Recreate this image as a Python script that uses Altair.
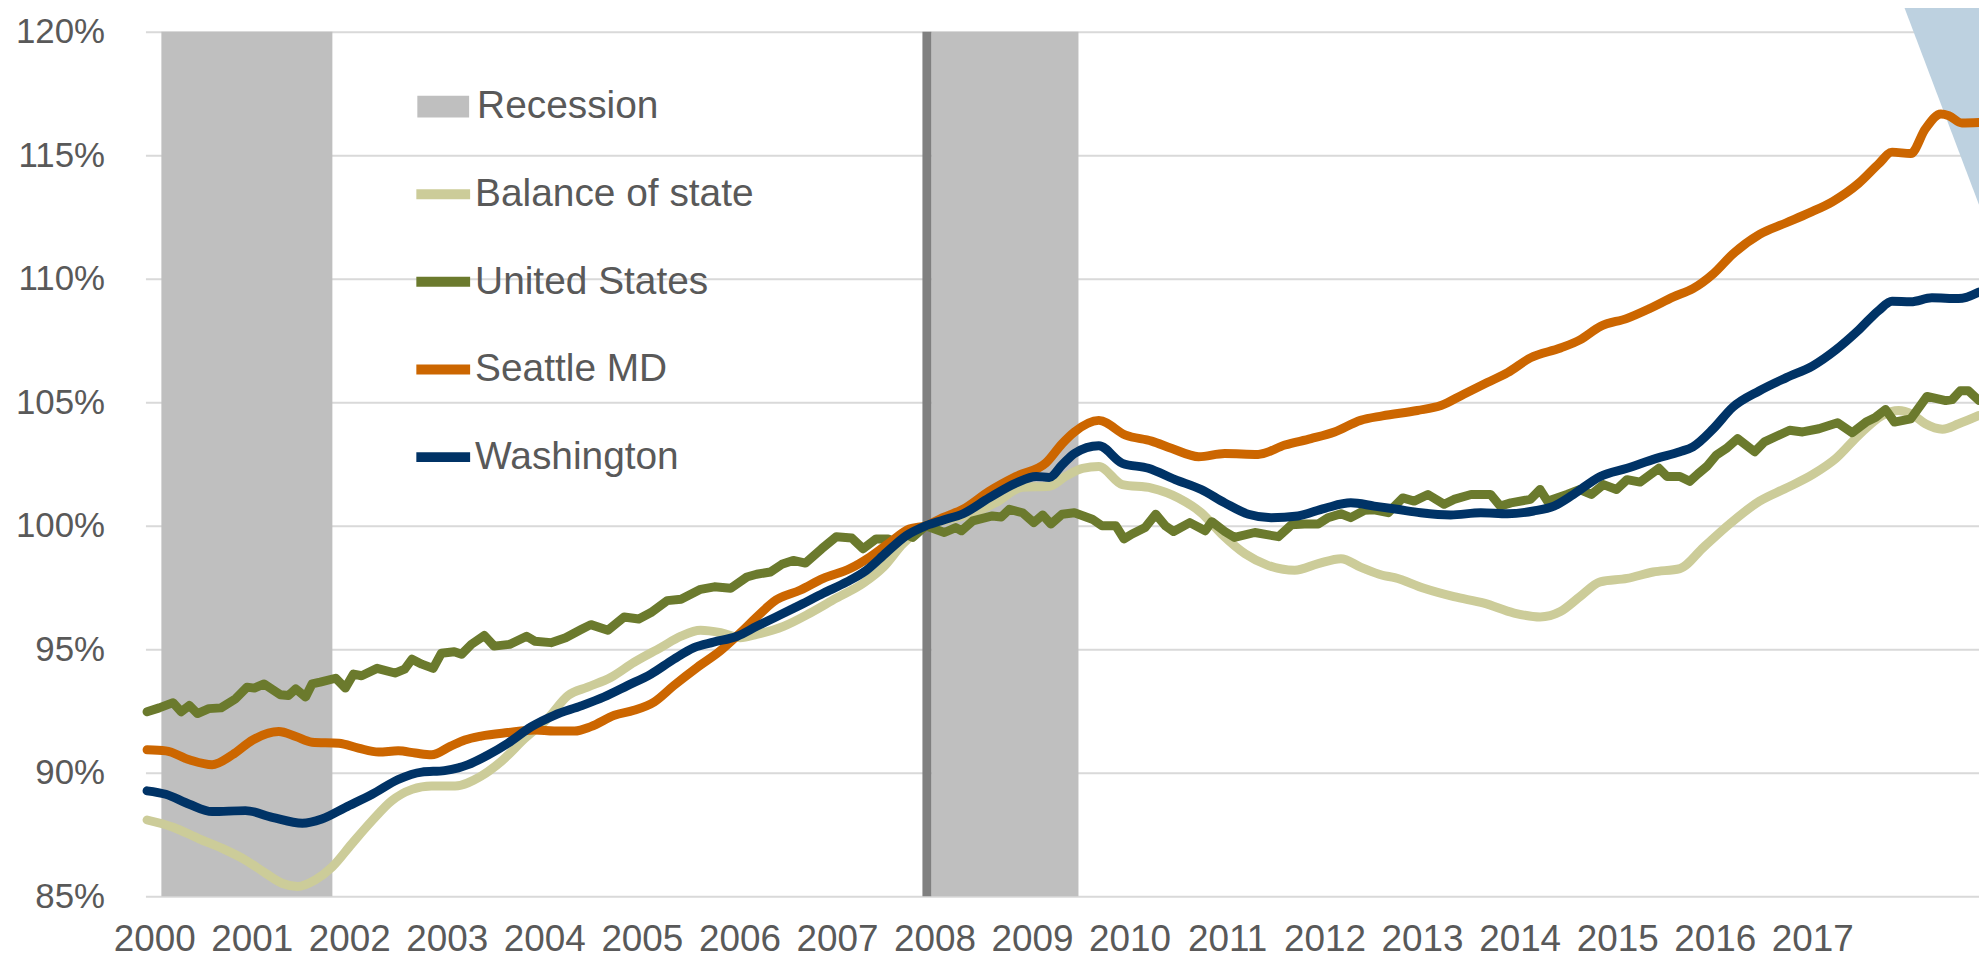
import altair as alt
import pandas as pd

# ---------------- data (months since Jan 2000, index value in %) ----------------
SERIES = ["Balance of state", "United States", "Seattle MD", "Washington"]
COLORS = ["#cccc99", "#6b7a2d", "#cc6600", "#003366"]

BAL_M = [0.2, 3.4, 6.6, 9.9, 12.3, 14.8, 16.8, 18.7, 20.9, 23.0, 25.4, 27.9, 30.3, 32.8, 35.2, 38.1,
         41.3, 43.8, 46.7, 49.5, 52.0, 54.4, 57.3, 60.1, 63.4, 65.9, 68.3, 70.8, 73.2, 75.2, 78.5,
         81.8, 85.0, 88.3, 90.8, 93.2, 96.0, 98.1, 101.4, 104.6, 107.9, 111.2, 113.2, 115.3, 117.3,
         120.2, 123.8, 127.1, 129.9, 132.4, 135.3, 138.1, 141.4, 144.3, 147.1, 149.5, 152.2, 153.7,
         157.3, 161.0, 164.7, 168.4, 171.6, 174.1, 176.5, 179.0, 182.3, 185.5, 188.8, 191.7, 195.0,
         198.6, 201.9, 205.1, 208.0, 210.8, 213.7, 215.7, 217.3, 219.0, 221.1, 223.1, 225.6]
BAL_V = [88.09, 87.8, 87.33, 86.87, 86.47, 85.93, 85.53, 85.4, 85.67, 86.2, 87.13, 88.07, 88.87,
         89.33, 89.47, 89.47, 89.87, 90.47, 91.4, 92.2, 93.13, 93.47, 93.87, 94.47, 95.07, 95.53,
         95.77, 95.67, 95.47, 95.6, 95.93, 96.47, 97.07, 97.67, 98.33, 99.27, 100.0, 100.2, 100.47,
         100.93, 101.56, 101.6, 102.0, 102.33, 102.4, 101.67, 101.53, 101.13, 100.53, 99.67, 98.87,
         98.4, 98.2, 98.47, 98.67, 98.33, 98.0, 97.9, 97.47, 97.13, 96.87, 96.47, 96.31, 96.53,
         97.13, 97.73, 97.87, 98.13, 98.27, 99.13, 100.1, 101.0, 101.53, 102.07, 102.73, 103.67,
         104.47, 104.67, 104.53, 104.13, 103.91, 104.13, 104.47]

US_M = [0.2, 1.7, 3.4, 4.4, 5.4, 6.4, 7.8, 9.3, 11.1, 12.5, 13.4, 14.6, 16.6, 17.6, 18.5, 19.7,
        20.5, 21.5, 23.4, 24.6, 25.6, 26.6, 28.5, 30.7, 31.9, 32.8, 34.0, 35.4, 36.4, 38.0, 38.9,
        40.1, 41.7, 42.9, 44.8, 46.9, 47.9, 49.9, 51.7, 53.6, 54.8, 56.9, 58.9, 60.7, 62.2, 64.2,
        65.9, 68.3, 70.0, 72.0, 74.0, 75.2, 76.9, 78.3, 79.7, 81.2, 83.2, 85.0, 86.9, 88.3, 89.9,
        91.4, 92.2, 93.2, 94.4, 96.0, 98.3, 99.7, 100.4, 101.8, 104.2, 105.3, 106.3, 107.9, 109.3,
        110.4, 111.4, 112.8, 114.3, 116.5, 117.7, 119.4, 120.4, 121.4, 123.0, 124.3, 125.5, 126.5,
        128.5, 130.4, 131.2, 132.8, 134.0, 136.5, 139.4, 141.0, 142.6, 144.3, 145.5, 147.1, 148.3,
        150.0, 151.2, 152.9, 154.7, 156.1, 157.8, 159.8, 161.0, 163.1, 165.5, 166.7, 168.0, 170.4,
        171.6, 172.5, 174.9, 176.5, 177.9, 179.4, 181.0, 182.3, 183.9, 186.2, 187.2, 188.8, 190.0,
        191.0, 192.1, 193.3, 194.5, 195.9, 198.0, 199.2, 202.3, 203.9, 205.9, 208.2, 210.0, 211.7,
        212.9, 214.1, 215.2, 217.2, 219.2, 221.5, 222.3, 223.3, 224.3, 225.6]
US_V = [92.47, 92.63, 92.84, 92.47, 92.73, 92.4, 92.6, 92.63, 93.0, 93.47, 93.43, 93.6, 93.16,
        93.13, 93.4, 93.07, 93.6, 93.67, 93.83, 93.43, 94.0, 93.93, 94.23, 94.04, 94.2, 94.6, 94.4,
        94.23, 94.84, 94.9, 94.8, 95.2, 95.56, 95.13, 95.2, 95.53, 95.33, 95.27, 95.47, 95.8, 96.0,
        95.77, 96.31, 96.23, 96.49, 96.97, 97.03, 97.43, 97.53, 97.47, 97.93, 98.04, 98.13, 98.44,
        98.6, 98.49, 99.07, 99.56, 99.51, 99.07, 99.47, 99.47, 99.33, 99.71, 99.53, 100.0, 99.73,
        99.93, 99.8, 100.2, 100.4, 100.36, 100.67, 100.53, 100.13, 100.44, 100.07, 100.47, 100.53,
        100.27, 100.0, 100.0, 99.47, 99.67, 99.93, 100.47, 100.0, 99.77, 100.13, 99.8, 100.17, 99.77,
        99.53, 99.73, 99.56, 100.04, 100.07, 100.07, 100.33, 100.49, 100.33, 100.63, 100.65, 100.53,
        101.13, 101.0, 101.27, 100.87, 101.07, 101.27, 101.27, 100.8, 100.93, 101.07, 101.47, 101.0,
        101.27, 101.47, 101.27, 101.67, 101.47, 101.87, 101.77, 102.33, 102.0, 102.0, 101.8, 102.1,
        102.4, 102.87, 103.13, 103.53, 103.0, 103.4, 103.87, 103.8, 103.93, 104.17, 103.77, 104.2,
        104.4, 104.71, 104.2, 104.33, 105.24, 105.07, 105.11, 105.47, 105.47, 105.07]

SEA_M = [0.2, 2.5, 5.4, 8.2, 10.7, 13.2, 16.4, 18.5, 20.5, 23.8, 26.2, 28.7, 31.1, 33.2, 35.2,
         37.5, 39.3, 41.3, 44.6, 47.9, 50.3, 52.8, 54.8, 57.7, 60.1, 62.6, 65.0, 67.9, 70.7, 73.2,
         75.5, 77.3, 80.6, 83.4, 86.7, 89.1, 91.6, 94.0, 96.0, 98.1, 100.6, 103.8, 107.1, 110.8,
         112.8, 114.3, 117.3, 120.6, 123.8, 126.3, 129.6, 132.8, 136.9, 140.2, 143.4, 146.3, 149.5,
         152.2, 156.5, 159.4, 162.2, 165.1, 167.6, 170.4, 174.1, 176.5, 179.0, 182.3, 185.1, 188.0,
         190.4, 192.9, 195.3, 198.6, 201.9, 204.7, 207.6, 210.8, 213.3, 214.9, 217.2, 219.0, 220.9,
         221.9, 223.5, 225.6]
SEA_V = [90.93, 90.89, 90.53, 90.33, 90.73, 91.33, 91.67, 91.47, 91.24, 91.2, 91.0, 90.84, 90.89,
         90.8, 90.73, 91.07, 91.33, 91.49, 91.63, 91.73, 91.69, 91.69, 91.87, 92.33, 92.53, 92.87,
         93.53, 94.27, 94.93, 95.67, 96.4, 96.93, 97.4, 97.87, 98.27, 98.73, 99.33, 99.87, 100.0,
         100.33, 100.67, 101.4, 102.0, 102.55, 103.33, 103.8, 104.27, 103.67, 103.43, 103.13, 102.8,
         102.93, 102.89, 103.27, 103.53, 103.8, 104.27, 104.45, 104.67, 104.87, 105.33, 105.8, 106.2,
         106.8, 107.2, 107.53, 108.07, 108.4, 108.8, 109.27, 109.6, 110.2, 111.0, 111.8, 112.27,
         112.67, 113.13, 113.87, 114.67, 115.13, 115.07, 116.07, 116.67, 116.6, 116.31, 116.33]

WA_M = [0.2, 2.5, 5.4, 8.2, 12.3, 15.6, 19.3, 21.7, 24.6, 27.9, 31.1, 34.0, 36.8, 38.5, 39.7, 42.2,
        44.6, 47.5, 50.3, 53.6, 56.4, 59.3, 62.2, 65.0, 67.5, 69.9, 72.8, 75.2, 77.7, 80.6, 83.4,
        86.3, 88.7, 91.2, 93.6, 96.0, 98.1, 100.6, 103.8, 107.1, 109.6, 111.2, 112.8, 114.3, 117.3,
        120.2, 123.4, 126.7, 129.9, 132.8, 135.7, 138.5, 141.8, 145.1, 148.3, 151.2, 154.0, 156.9,
        160.6, 164.3, 167.6, 170.8, 173.3, 175.7, 179.0, 182.3, 185.9, 188.8, 190.4, 192.9, 195.3,
        198.6, 201.9, 205.1, 208.0, 210.8, 213.3, 214.9, 217.2, 219.8, 223.1, 225.6]
WA_V = [89.27, 89.13, 88.73, 88.43, 88.47, 88.2, 87.96, 88.13, 88.6, 89.13, 89.73, 90.03, 90.09,
        90.2, 90.33, 90.73, 91.2, 91.87, 92.33, 92.71, 93.07, 93.53, 94.0, 94.6, 95.07, 95.29, 95.53,
        95.93, 96.33, 96.8, 97.27, 97.73, 98.2, 98.93, 99.6, 100.0, 100.23, 100.49, 101.13, 101.73,
        102.0, 101.96, 102.47, 102.93, 103.24, 102.53, 102.33, 101.87, 101.47, 100.93, 100.47, 100.33,
        100.4, 100.71, 100.93, 100.8, 100.67, 100.53, 100.44, 100.53, 100.49, 100.6, 100.8, 101.27,
        102.0, 102.33, 102.73, 103.0, 103.2, 103.93, 104.8, 105.47, 106.0, 106.47, 107.13, 107.93,
        108.73, 109.09, 109.07, 109.23, 109.2, 109.47]

# recession periods (months since Jan 2000)
REC_LABEL = ["Recession", "Recession"]
REC_START_M = [1.96, 96.7]
REC_END_M = [23.0, 114.8]
# base-period marker (Jan 2008)
BASE_START_M = [95.6]
BASE_END_M = [96.7]
# decorative slide triangle in the top-right corner
TRI_M = [216.4, 225.6]
TRI_LOW = [121.0, 113.0]
TRI_HIGH = [121.2, 121.2]

X_END_M = 225.6
YEAR_LABELS = list(range(2000, 2018))
Y_TICKS = [85, 90, 95, 100, 105, 110, 115, 120]

FONT = "Liberation Sans"
TXT = "#595959"


def to_year(months):
    return [2000 + m / 12.0 for m in months]


frames = []
for name, ms, vs in [(SERIES[0], BAL_M, BAL_V), (SERIES[1], US_M, US_V),
                     (SERIES[2], SEA_M, SEA_V), (SERIES[3], WA_M, WA_V)]:
    frames.append(pd.DataFrame({"t": to_year(ms), "v": vs, "series": name}))

rec_df = pd.DataFrame({"t0": to_year(REC_START_M), "t1": to_year(REC_END_M), "kind": REC_LABEL,
                       "lo": [85] * 2, "hi": [120] * 2})
base_df = pd.DataFrame({"t0": to_year(BASE_START_M), "t1": to_year(BASE_END_M), "lo": [85], "hi": [120]})
tri_df = pd.DataFrame({"t": to_year(TRI_M), "lo": TRI_LOW, "hi": TRI_HIGH})

x_scale = alt.Scale(domain=[2000, 2000 + X_END_M / 12.0], nice=False, zero=False)
y_scale = alt.Scale(domain=[85, 120], nice=False, zero=False)

x_axis = alt.Axis(values=[y + 0.09 for y in YEAR_LABELS], labelExpr="format(floor(datum.value), 'd')",
                  title=None, grid=False, domain=False, ticks=False, tickSize=0, labelPadding=25,
                  labelFontSize=37, labelFont=FONT, labelColor=TXT, labelOverlap=False, labelFlush=False)
y_axis = alt.Axis(values=Y_TICKS, labelExpr="datum.value + '%'", title=None, grid=True,
                  gridColor="#d9d9d9", gridWidth=2, domain=False, ticks=False, tickSize=0,
                  labelPadding=41, labelFontSize=35, labelFont=FONT, labelColor=TXT)

tri = alt.Chart(tri_df).mark_area(color="#bdd1e0", clip=False).encode(
    x=alt.X("t:Q", scale=x_scale, axis=x_axis),
    y=alt.Y("lo:Q", scale=y_scale, axis=y_axis),
    y2="hi:Q",
)

rec = alt.Chart(rec_df).mark_rect().encode(
    x=alt.X("t0:Q", scale=x_scale, axis=x_axis),
    x2="t1:Q",
    y=alt.Y("lo:Q", scale=y_scale, axis=y_axis),
    y2="hi:Q",
    fill=alt.Fill("kind:N", scale=alt.Scale(domain=["Recession"], range=["#bfbfbf"]),
                  legend=alt.Legend(title=None, orient="none", legendX=273, legendY=49, padding=0,
                                    symbolType="M-1,-0.42H1V0.42H-1Z", symbolSize=2704,
                                    symbolOpacity=1, symbolStrokeWidth=0, labelLimit=800,
                                    labelFont=FONT, labelFontSize=39, labelColor=TXT, labelOffset=8)),
)

base = alt.Chart(base_df).mark_rect(color="#808080").encode(
    x=alt.X("t0:Q", scale=x_scale, axis=x_axis),
    x2="t1:Q",
    y=alt.Y("lo:Q", scale=y_scale, axis=y_axis),
    y2="hi:Q",
)

line_legend = alt.Legend(title=None, orient="none", legendX=267, legendY=131, padding=0,
                         symbolType="stroke", symbolSize=2916, symbolStrokeWidth=10,
                         rowPadding=36, labelFont=FONT, labelFontSize=39, labelColor=TXT,
                         labelOffset=0, labelLimit=800)

layers = [tri, rec, base]
for i, df in enumerate(frames):
    interp = "linear" if SERIES[i] == "United States" else "monotone"
    layers.append(
        alt.Chart(df).mark_line(strokeWidth=9, strokeCap="round", strokeJoin="round",
                                interpolate=interp).encode(
            x=alt.X("t:Q", scale=x_scale, axis=x_axis),
            y=alt.Y("v:Q", scale=y_scale, axis=y_axis),
            stroke=alt.Stroke("series:N", scale=alt.Scale(domain=SERIES, range=COLORS),
                              legend=line_legend),
        )
    )

chart = alt.layer(*layers).properties(
    width=1841, height=868,
    autosize=alt.AutoSizeParams(type="none"),
    padding={"left": 138, "top": 22, "right": 0, "bottom": 60},
    background="white",
).configure_view(stroke=None)

chart.save("out.html", embed_options={"renderer": "svg", "actions": False})
